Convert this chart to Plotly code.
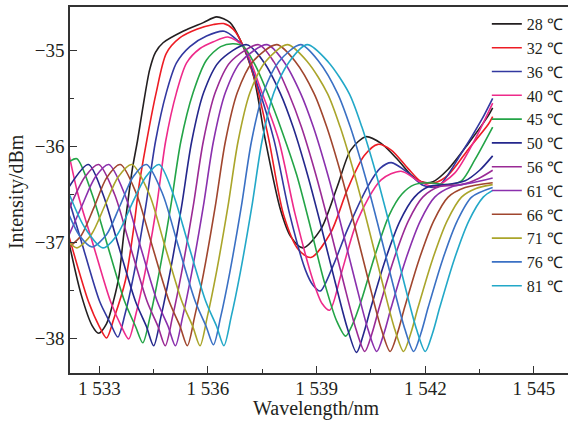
import plotly.graph_objects as go

temps = ["28 ℃", "32 ℃", "36 ℃", "40 ℃", "45 ℃", "50 ℃", "56 ℃", "61 ℃", "66 ℃", "71 ℃", "76 ℃", "81 ℃"]
colors = ["#231f20", "#ed1c24", "#3238a0", "#ee2a8a", "#23a447", "#24278c",
          "#9a2a95", "#8a30ad", "#a0462e", "#aaa52a", "#3a70c4", "#22a8c8"]

x28 = [1532.17, 1532.5, 1532.8, 1532.98, 1533.2, 1533.4, 1533.54, 1533.68, 1533.91, 1534.05, 1534.2, 1534.39, 1534.55, 1534.76, 1535.31, 1535.87, 1536.24, 1536.61, 1536.89, 1537.26, 1537.58, 1538.0, 1538.28, 1538.62, 1539.11, 1539.57, 1539.94, 1540.36, 1540.78, 1541.24, 1541.61, 1541.89, 1542.21, 1542.63, 1543.19, 1543.74, 1543.86]
y28 = [-37.02, -37.55, -37.87, -37.95, -37.85, -37.6, -37.36, -36.9, -36.24, -35.95, -35.6, -35.2, -35.02, -34.92, -34.80, -34.71, -34.65, -34.71, -34.89, -35.27, -35.93, -36.66, -36.94, -37.06, -36.87, -36.42, -36.04, -35.9, -35.97, -36.14, -36.30, -36.37, -36.37, -36.24, -35.97, -35.68, -35.6]

x32 = [1532.17, 1532.7, 1533.0, 1533.2, 1533.4, 1533.72, 1533.95, 1534.1, 1534.28, 1534.57, 1534.85, 1535.22, 1535.69, 1536.15, 1536.43, 1536.7, 1536.98, 1537.35, 1537.68, 1538.09, 1538.5, 1538.84, 1539.39, 1539.85, 1540.31, 1540.69, 1541.06, 1541.52, 1541.89, 1542.26, 1542.63, 1543.19, 1543.74, 1543.86]
y32 = [-36.95, -37.62, -37.88, -38.0, -37.8, -37.4, -36.85, -36.4, -36.0, -35.44, -35.03, -34.87, -34.78, -34.73, -34.72, -34.78, -34.96, -35.38, -35.93, -36.72, -37.08, -37.16, -36.9, -36.45, -36.1, -35.98, -36.04, -36.23, -36.37, -36.38, -36.3, -36.03, -35.77, -35.69]

x36 = [1532.17, 1532.51, 1533.01, 1533.31, 1533.51, 1533.71, 1533.96, 1534.28, 1534.55, 1534.85, 1535.13, 1535.5, 1535.96, 1536.45, 1536.8, 1536.98, 1537.4, 1537.82, 1538.25, 1538.7, 1538.9, 1539.1, 1539.45, 1539.85, 1540.41, 1540.75, 1541.06, 1541.5, 1541.95, 1542.35, 1543.0, 1543.56, 1543.86]
y36 = [-36.57, -37.0, -37.62, -37.85, -37.99, -37.75, -37.32, -36.63, -35.95, -35.44, -35.13, -34.96, -34.85, -34.8, -34.89, -34.96, -35.4, -35.93, -36.7, -37.3, -37.45, -37.51, -37.25, -36.87, -36.42, -36.23, -36.17, -36.27, -36.41, -36.42, -36.07, -35.72, -35.5]

x40 = [1532.17, 1532.41, 1532.81, 1533.31, 1533.61, 1533.81, 1534.01, 1534.26, 1534.58, 1534.83, 1535.13, 1535.41, 1535.78, 1536.15, 1536.55, 1536.98, 1537.45, 1537.95, 1538.4, 1538.9, 1539.15, 1539.36, 1539.7, 1540.13, 1540.78, 1541.33, 1541.85, 1542.25, 1542.81, 1543.37, 1543.86]
y40 = [-36.1, -36.5, -37.0, -37.62, -37.88, -38.01, -37.75, -37.32, -36.63, -35.95, -35.44, -35.13, -34.98, -34.91, -34.86, -34.96, -35.4, -35.93, -36.7, -37.4, -37.64, -37.71, -37.3, -36.77, -36.35, -36.26, -36.37, -36.42, -36.28, -35.93, -35.55]

x45 = [1532.17, 1532.38, 1532.8, 1533.2, 1533.7, 1534.0, 1534.2, 1534.4, 1534.65, 1534.97, 1535.25, 1535.59, 1535.96, 1536.35, 1536.7, 1536.98, 1537.3, 1537.65, 1538.05, 1538.45, 1538.8, 1539.2, 1539.55, 1539.8, 1540.0, 1540.24, 1540.6, 1541.0, 1541.35, 1541.7, 1542.1, 1542.6, 1543.0, 1543.37, 1543.86]
y45 = [-36.16, -36.13, -36.5, -37.0, -37.62, -37.88, -38.05, -37.78, -37.32, -36.63, -35.95, -35.44, -35.1, -34.96, -34.93, -34.96, -35.15, -35.45, -35.85, -36.3, -36.8, -37.4, -37.82, -37.98, -37.85, -37.6, -37.15, -36.72, -36.5, -36.4, -36.38, -36.4, -36.36, -36.14, -35.8]

x50 = [1532.17, 1532.7, 1533.1, 1533.5, 1534.0, 1534.3, 1534.5, 1534.7, 1534.95, 1535.27, 1535.55, 1535.88, 1536.3, 1537.07, 1537.54, 1538.0, 1538.35, 1538.75, 1539.1, 1539.5, 1539.85, 1540.1, 1540.3, 1540.5, 1540.9, 1541.3, 1541.7, 1542.1, 1542.6, 1543.1, 1543.5, 1543.86]
y50 = [-36.42, -36.19, -36.5, -37.0, -37.62, -37.88, -38.08, -37.78, -37.32, -36.63, -35.95, -35.44, -35.12, -34.94, -35.12, -35.45, -35.8, -36.3, -36.8, -37.4, -37.9, -38.15, -37.95, -37.68, -37.18, -36.78, -36.53, -36.42, -36.4, -36.36, -36.25, -36.1]

x56 = [1532.17, 1532.6, 1532.98, 1533.42, 1533.82, 1534.32, 1534.62, 1534.82, 1535.02, 1535.27, 1535.59, 1535.87, 1536.2, 1536.62, 1537.4, 1537.82, 1538.23, 1538.58, 1538.98, 1539.33, 1539.73, 1540.08, 1540.33, 1540.53, 1540.73, 1541.13, 1541.53, 1541.93, 1542.4, 1543.0, 1543.5, 1543.86]
y56 = [-36.65, -36.32, -36.19, -36.5, -37.0, -37.62, -37.88, -38.08, -37.78, -37.32, -36.63, -35.95, -35.44, -35.12, -34.94, -35.12, -35.45, -35.8, -36.3, -36.8, -37.4, -37.9, -38.14, -37.95, -37.68, -37.18, -36.78, -36.53, -36.42, -36.4, -36.33, -36.25]

x61 = [1532.17, 1532.52, 1532.89, 1533.26, 1533.7, 1534.1, 1534.6, 1534.9, 1535.1, 1535.3, 1535.55, 1535.87, 1536.15, 1536.48, 1536.9, 1537.63, 1538.1, 1538.56, 1538.91, 1539.31, 1539.66, 1540.06, 1540.41, 1540.66, 1540.86, 1541.06, 1541.46, 1541.86, 1542.26, 1542.75, 1543.3, 1543.86]
y61 = [-36.92, -36.62, -36.32, -36.19, -36.5, -37.0, -37.62, -37.88, -38.08, -37.78, -37.32, -36.63, -35.95, -35.44, -35.12, -34.94, -35.12, -35.45, -35.8, -36.3, -36.8, -37.4, -37.9, -38.14, -37.95, -37.68, -37.18, -36.78, -36.53, -36.42, -36.38, -36.33]

x66 = [1532.17, 1532.5, 1532.85, 1533.2, 1533.58, 1534.03, 1534.43, 1534.93, 1535.23, 1535.43, 1535.63, 1535.88, 1536.2, 1536.48, 1536.81, 1537.23, 1537.9, 1538.42, 1538.93, 1539.28, 1539.68, 1540.03, 1540.43, 1540.78, 1541.03, 1541.23, 1541.43, 1541.83, 1542.23, 1542.63, 1543.1, 1543.86]
y66 = [-37.05, -36.93, -36.64, -36.33, -36.19, -36.5, -37.0, -37.62, -37.88, -38.08, -37.78, -37.32, -36.63, -35.95, -35.44, -35.12, -34.94, -35.12, -35.45, -35.8, -36.3, -36.8, -37.4, -37.9, -38.14, -37.95, -37.68, -37.18, -36.78, -36.53, -36.43, -36.38]

x71 = [1532.17, 1532.38, 1532.78, 1533.15, 1533.52, 1533.9, 1534.38, 1534.78, 1535.28, 1535.58, 1535.78, 1535.98, 1536.23, 1536.55, 1536.83, 1537.16, 1537.58, 1538.19, 1538.75, 1539.3, 1539.65, 1540.05, 1540.4, 1540.8, 1541.15, 1541.4, 1541.6, 1541.8, 1542.2, 1542.6, 1543.0, 1543.4, 1543.86]
y71 = [-37.0, -37.06, -36.92, -36.62, -36.32, -36.19, -36.5, -37.0, -37.62, -37.88, -38.08, -37.78, -37.32, -36.63, -35.95, -35.44, -35.12, -34.94, -35.12, -35.45, -35.8, -36.3, -36.8, -37.4, -37.9, -38.14, -37.95, -37.68, -37.18, -36.78, -36.53, -36.44, -36.4]

x76 = [1532.17, 1532.45, 1532.8, 1533.2, 1533.57, 1533.93, 1534.3, 1534.75, 1535.15, 1535.65, 1535.95, 1536.15, 1536.35, 1536.6, 1536.92, 1537.2, 1537.53, 1537.95, 1538.56, 1539.07, 1539.58, 1539.93, 1540.33, 1540.68, 1541.08, 1541.43, 1541.68, 1541.88, 1542.08, 1542.48, 1542.88, 1543.28, 1543.86]
y76 = [-36.72, -36.93, -37.05, -36.92, -36.62, -36.32, -36.19, -36.5, -37.0, -37.62, -37.88, -38.07, -37.78, -37.32, -36.63, -35.95, -35.44, -35.12, -34.94, -35.12, -35.45, -35.8, -36.3, -36.8, -37.4, -37.9, -38.14, -37.95, -37.68, -37.18, -36.78, -36.53, -36.43]

x81 = [1532.17, 1532.6, 1533.1, 1533.5, 1533.9, 1534.28, 1534.65, 1535.04, 1535.44, 1535.94, 1536.24, 1536.44, 1536.64, 1536.89, 1537.21, 1537.49, 1537.82, 1538.24, 1538.74, 1539.32, 1539.9, 1540.25, 1540.65, 1541.0, 1541.4, 1541.75, 1542.0, 1542.2, 1542.4, 1542.8, 1543.2, 1543.6, 1543.86]
y81 = [-36.5, -36.85, -37.06, -36.92, -36.6, -36.32, -36.19, -36.5, -37.0, -37.62, -37.88, -38.08, -37.78, -37.32, -36.63, -35.95, -35.44, -35.12, -34.94, -35.12, -35.45, -35.8, -36.3, -36.8, -37.4, -37.9, -38.14, -37.95, -37.68, -37.18, -36.78, -36.53, -36.46]

x_ticks = [1533, 1536, 1539, 1542, 1545]
x_ticktext = ["1 533", "1 536", "1 539", "1 542", "1 545"]
x_minor = [1534.5, 1537.5, 1540.5, 1543.5]
y_ticks = [-38, -37, -36, -35]
y_ticktext = ["\u221238", "\u221237", "\u221236", "\u221235"]
y_minor = [-37.5, -36.5, -35.5]
x_title = "Wavelength/nm"
y_title = "Intensity/dBm"

series_x = [x28, x32, x36, x40, x45, x50, x56, x61, x66, x71, x76, x81]
series_y = [y28, y32, y36, y40, y45, y50, y56, y61, y66, y71, y76, y81]

fig = go.Figure()
for name, col, xs, ys in zip(temps, colors, series_x, series_y):
    fig.add_trace(go.Scatter(x=xs, y=ys, mode="lines", name=name,
                             line=dict(color=col, width=1.6, shape="spline", smoothing=0.8)))

axis_col = "#333333"
fig.update_layout(
    width=568, height=421,
    margin=dict(l=70, r=0, t=7, b=48, autoexpand=False),
    plot_bgcolor="white", paper_bgcolor="white",
    font=dict(family="Liberation Serif", size=19, color="#231f20"),
    legend=dict(x=0.837, y=1.0, xanchor="left", yanchor="top",
                bgcolor="rgba(0,0,0,0)", font=dict(size=16), tracegroupgap=0),
    xaxis=dict(range=[1532.19, 1545.94], tickmode="array", tickvals=x_ticks, ticktext=x_ticktext,
               ticks="inside", ticklen=7, tickwidth=1.3, tickcolor=axis_col,
               showline=True, linecolor=axis_col, linewidth=1.5, mirror=True,
               showgrid=False, zeroline=False, automargin=False, ticklabelstandoff=-3,
               minor=dict(tickmode="array", tickvals=x_minor, ticks="inside", ticklen=4,
                          tickwidth=1.2, tickcolor=axis_col, showgrid=False)),
    yaxis=dict(range=[-38.365, -34.547], tickmode="array", tickvals=y_ticks, ticktext=y_ticktext,
               ticks="inside", ticklen=7, tickwidth=1.3, tickcolor=axis_col,
               showline=True, linecolor=axis_col, linewidth=1.5, mirror=False,
               showgrid=False, zeroline=False, automargin=False,
               minor=dict(tickmode="array", tickvals=y_minor, ticks="inside", ticklen=4,
                          tickwidth=1.2, tickcolor=axis_col, showgrid=False)),
    annotations=[
        dict(text=x_title, xref="paper", yref="paper", x=0.494, y=-0.097,
             xanchor="center", yanchor="middle", showarrow=False, font=dict(size=20)),
        dict(text=y_title, xref="paper", yref="paper", x=-0.106, y=0.495,
             xanchor="center", yanchor="middle", showarrow=False, textangle=-90,
             font=dict(size=20)),
    ],
)

fig.write_html("out.html", config={"displayModeBar": False},
               post_script="document.body.style.margin='0';")
